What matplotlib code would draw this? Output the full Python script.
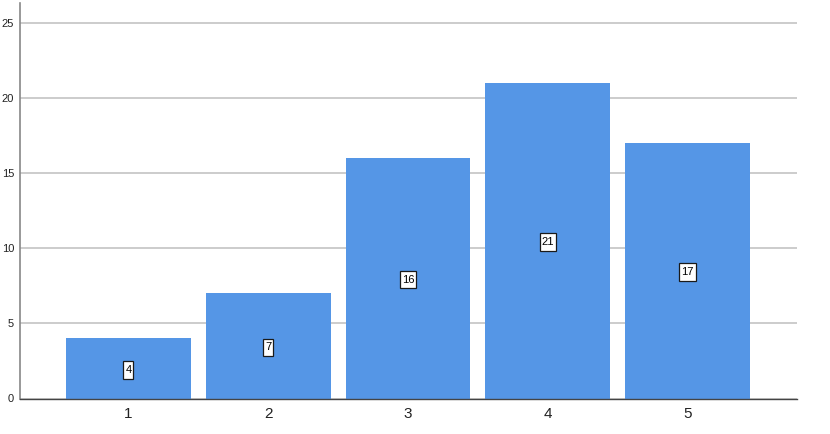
import matplotlib
matplotlib.use('Agg')
import matplotlib.pyplot as plt
from matplotlib.patches import Rectangle
from matplotlib.transforms import IdentityTransform

categories = ["1", "2", "3", "4", "5"]
counts = [4, 7, 16, 21, 17]
y_ticks = [0, 5, 10, 15, 20, 25]

plt.rcParams['font.family'] = ['Liberation Sans', 'DejaVu Sans']

W, H = 830, 434
fig = plt.figure(figsize=(W / 100, H / 100), dpi=100)
ax = fig.add_axes([20 / W, (H - 398.5) / H, (797 - 20) / W, (398.5 - 3) / H])

x = list(range(1, len(categories) + 1))
ax.set_axisbelow(True)
ax.yaxis.grid(True, color='#c8c8c8', linewidth=1.3)
ax.bar(x, counts, width=0.893, color='#5596e6', edgecolor='none')

# etiquettes de valeur au milieu des barres
labels = []
for xi, c in zip(x, counts):
    t = ax.annotate(str(c), xy=(xi, c / 2), xytext=(0, -1.1), textcoords='offset points',
                    ha='center', va='center', fontsize=8, color='black', zorder=10)
    labels.append(t)

ax.set_xlim(0.225, 5.782)
ax.set_ylim(0, 26.3)
ax.set_xticks(x)
ax.set_xticklabels(categories, fontsize=11, color='#222222')
ax.set_yticks(y_ticks)
ax.set_yticklabels([str(t) for t in y_ticks], fontsize=8, color='#222222')
ax.tick_params(axis='both', length=0)
ax.tick_params(axis='x', pad=5.8)
ax.tick_params(axis='y', pad=4.3)

for side in ['top', 'right']:
    ax.spines[side].set_visible(False)
ax.spines['left'].set_color('#888888')
ax.spines['left'].set_linewidth(1.2)
ax.spines['bottom'].set_color('#444444')
ax.spines['bottom'].set_linewidth(1.0)

# cadres blancs autour des etiquettes (plus hauts que larges)
fig.canvas.draw()
renderer = fig.canvas.get_renderer()
for t in labels:
    bb = t.get_window_extent(renderer)
    cx = (bb.x0 + bb.x1) / 2
    cy = (bb.y0 + bb.y1) / 2
    w = bb.width + 4
    h = 17.5
    box = Rectangle((cx - w / 2, cy - h / 2), w, h, transform=IdentityTransform(),
                    facecolor='white', edgecolor='#1a1a1a', linewidth=0.9,
                    zorder=8, clip_on=False)
    ax.add_artist(box)

fig.savefig('out.png', dpi=100)
